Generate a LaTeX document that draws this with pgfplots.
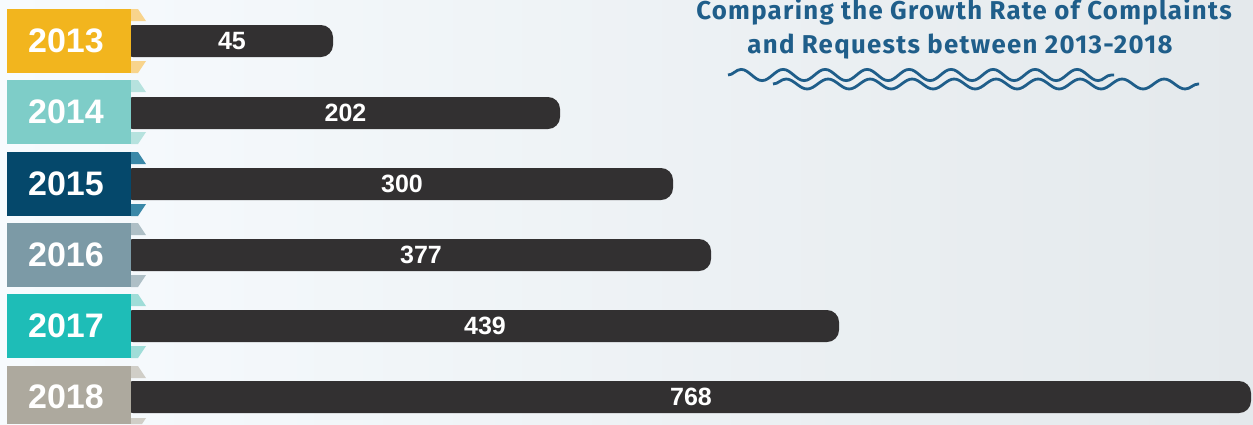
\documentclass[border=0pt]{standalone}
\usepackage{pgfplots}
\pgfplotsset{compat=1.18}
\usepackage{pgfplotstable}
\usepackage{fontspec}
\setmainfont{Liberation Sans}
\newfontfamily\titlefont[LetterSpace=5]{Fira Sans}
\usetikzlibrary{decorations.pathmorphing}
\definecolor{bgL}{HTML}{F7FBFE}
\definecolor{bgR}{HTML}{E4E9EC}
\definecolor{barcol}{HTML}{323031}
\definecolor{titlecol}{HTML}{1F5E8A}
\definecolor{cA}{HTML}{F2B51E}\definecolor{lA}{HTML}{F8D48C}
\definecolor{cB}{HTML}{7ECDC8}\definecolor{lB}{HTML}{B6E2DE}
\definecolor{cC}{HTML}{05486B}\definecolor{lC}{HTML}{3A88A8}
\definecolor{cD}{HTML}{7C9AA6}\definecolor{lD}{HTML}{AEBFC6}
\definecolor{cE}{HTML}{1EBDB7}\definecolor{lE}{HTML}{9FDDD8}
\definecolor{cF}{HTML}{ADA99E}\definecolor{lF}{HTML}{D0CEC7}

\pgfplotstableread{
y len val
41 212 45
113 439 202
184 552 300
255 590 377
326 718 439
397 1130 768
}\data

% #1 top, #2 top+12, #3 top+52, #4 top+64, #5 colour, #6 light, #7 year
\newcommand\yearrow[7]{%
  \fill[#6] (axis cs:10,#1) -- (axis cs:17,#1) -- (axis cs:25,#2) -- (axis cs:10,#2) -- cycle;
  \fill[#6] (axis cs:10,#3) -- (axis cs:25,#3) -- (axis cs:17,#4) -- (axis cs:10,#4) -- cycle;
  \fill[#5] (axis cs:-114,#1) rectangle (axis cs:10,#4);
  \node[text=white, font=\fontsize{17}{18}\selectfont\bfseries] at (axis cs:-55,#1/2+#4/2) {#7};
}

\begin{document}
\begin{tikzpicture}
\begin{axis}[
  width=626.5pt, height=212pt, scale only axis,
  xmin=-121, xmax=1132, ymin=0, ymax=424, y dir=reverse,
  hide axis, clip=false,
]
\shade[left color=bgL, right color=bgR] (rel axis cs:0,0) rectangle (rel axis cs:1,1);
\addplot[xbar, bar width=32, fill=barcol, draw=none, rounded corners=6pt] table[x=len, y=y] {\data};
\addplot[draw=none, mark=none, nodes near coords, point meta=explicit symbolic,
  nodes near coords style={anchor=center, text=white, font=\fontsize{12.5}{14}\selectfont\bfseries}]
  table[x expr=(\thisrow{len}+10)/2, y=y, meta=val] {\data};
\yearrow{9}{21}{61}{73}{cA}{lA}{2013}
\yearrow{80}{92}{132}{144}{cB}{lB}{2014}
\yearrow{152}{164}{204}{216}{cC}{lC}{2015}
\yearrow{223}{235}{275}{287}{cD}{lD}{2016}
\yearrow{294}{306}{346}{358}{cE}{lE}{2017}
% 2018 row, cut by the picture's lower edge
\fill[lF] (axis cs:10,366) -- (axis cs:17,366) -- (axis cs:25,378) -- (axis cs:10,378) -- cycle;
\fill[lF] (axis cs:10,418) -- (axis cs:25,418) -- (axis cs:21,424) -- (axis cs:10,424) -- cycle;
\fill[cF] (axis cs:-114,366) rectangle (axis cs:10,424);
\node[text=white, font=\fontsize{17}{18}\selectfont\bfseries] at (axis cs:-55,397) {2018};
\node[anchor=base, inner sep=0pt, text=titlecol, font=\titlefont\fontsize{12.9}{14}\selectfont\bfseries] at (axis cs:843,19) {Comparing the Growth Rate of Complaints};
\node[anchor=base, inner sep=0pt, text=titlecol, font=\titlefont\fontsize{12.9}{14}\selectfont\bfseries] at (axis cs:839,53) {and Requests between 2013-2018};
\draw[titlecol, line width=1.4pt, decorate, decoration={snake, segment length=21pt, amplitude=2.8pt}] (axis cs:607,75) -- (axis cs:993,75);
\draw[titlecol, line width=1.4pt, decorate, decoration={snake, segment length=21pt, amplitude=2.5pt}] (axis cs:652,84) -- (axis cs:1078,84);
\end{axis}
\pgfresetboundingbox
\path[use as bounding box] (current axis.south west) rectangle (current axis.north east);
\end{tikzpicture}
\end{document}
